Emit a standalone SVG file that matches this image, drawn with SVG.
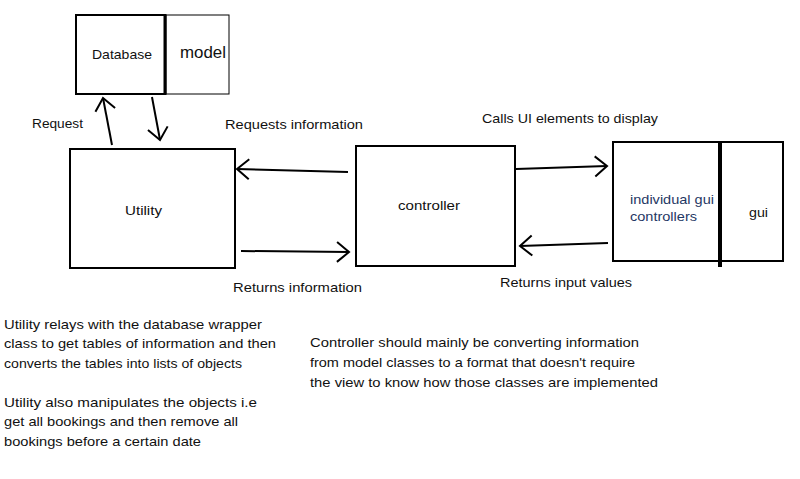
<svg xmlns="http://www.w3.org/2000/svg" width="800" height="479" viewBox="0 0 800 479">
<style>
.box{fill:#fff;stroke:#000;stroke-width:2}
.thin{fill:#fff;stroke:#000;stroke-width:1}
.t{font-family:"Liberation Sans",Arial,sans-serif;font-size:13.5px;fill:#111}
.c{stroke:#000;stroke-width:2;fill:none;marker-end:url(#ah)}
</style>
<defs>
<marker id="ah" markerUnits="userSpaceOnUse" markerWidth="20" markerHeight="24" refX="14" refY="12" orient="auto" viewBox="0 0 20 24">
<path d="M2,2 L14,12 L2,22" fill="none" stroke="#000" stroke-width="2"/>
</marker>
</defs>
<rect width="800" height="479" fill="#fff"/>
<g id="node-model">
<rect class="thin" x="166" y="15" width="63" height="79"/>
<text class="t" x="180" y="58" style="font-size:16.5px" textLength="46" lengthAdjust="spacingAndGlyphs">model</text>
</g>
<g id="node-database">
<rect class="box" x="76" y="15" width="89" height="79"/>
<line x1="165" y1="14" x2="165" y2="95" stroke="#000" stroke-width="3"/>
<text class="t" x="92" y="59" textLength="60" lengthAdjust="spacingAndGlyphs">Database</text>
</g>
<g id="node-utility">
<rect class="box" x="70" y="149" width="165" height="119"/>
<text class="t" x="125" y="215" textLength="37" lengthAdjust="spacingAndGlyphs">Utility</text>
</g>
<g id="node-controller">
<rect class="box" x="356" y="146" width="159" height="120"/>
<text class="t" x="398" y="210" textLength="62" lengthAdjust="spacingAndGlyphs">controller</text>
</g>
<g id="node-gui">
<rect class="box" x="613" y="142" width="170" height="119"/>
<line x1="720" y1="142" x2="720" y2="267" stroke="#000" stroke-width="4"/>
<text class="t" x="630" y="204" style="fill:#1f3864" textLength="84" lengthAdjust="spacingAndGlyphs">individual gui</text>
<text class="t" x="630" y="221" style="fill:#1f3864" textLength="67" lengthAdjust="spacingAndGlyphs">controllers</text>
<text class="t" x="749" y="217" textLength="19" lengthAdjust="spacingAndGlyphs">gui</text>
</g>
<g id="connectors">
<line class="c" x1="112" y1="145" x2="103" y2="98"/>
<line class="c" x1="152" y1="97" x2="160" y2="140"/>
<line class="c" x1="348" y1="172" x2="237" y2="169"/>
<line class="c" x1="241" y1="251" x2="349" y2="252"/>
<line class="c" x1="516" y1="169" x2="607" y2="166"/>
<line class="c" x1="608" y1="243" x2="520" y2="246"/>
</g>
<g id="labels">
<text class="t" x="32" y="128" textLength="51" lengthAdjust="spacingAndGlyphs">Request</text>
<text class="t" x="225" y="129" textLength="138" lengthAdjust="spacingAndGlyphs">Requests information</text>
<text class="t" x="482" y="123" textLength="176" lengthAdjust="spacingAndGlyphs">Calls UI elements to display</text>
<text class="t" x="233" y="292" textLength="129" lengthAdjust="spacingAndGlyphs">Returns information</text>
<text class="t" x="500" y="287" textLength="132" lengthAdjust="spacingAndGlyphs">Returns input values</text>
</g>
<g id="notes">
<text class="t" x="4" y="329" textLength="258" lengthAdjust="spacingAndGlyphs">Utility relays with the database wrapper</text>
<text class="t" x="4" y="348" textLength="272" lengthAdjust="spacingAndGlyphs">class to get tables of information and then</text>
<text class="t" x="4" y="368" textLength="238" lengthAdjust="spacingAndGlyphs">converts the tables into lists of objects</text>
<text class="t" x="4" y="407" textLength="253" lengthAdjust="spacingAndGlyphs">Utility also manipulates the objects i.e</text>
<text class="t" x="4" y="426" textLength="234" lengthAdjust="spacingAndGlyphs">get all bookings and then remove all</text>
<text class="t" x="4" y="446" textLength="197" lengthAdjust="spacingAndGlyphs">bookings before a certain date</text>
<text class="t" x="310" y="347" textLength="329" lengthAdjust="spacingAndGlyphs">Controller should mainly be converting information</text>
<text class="t" x="310" y="367" textLength="325" lengthAdjust="spacingAndGlyphs">from model classes to a format that doesn't require</text>
<text class="t" x="310" y="387" textLength="348" lengthAdjust="spacingAndGlyphs">the view to know how those classes are implemented</text>
</g>
</svg>
